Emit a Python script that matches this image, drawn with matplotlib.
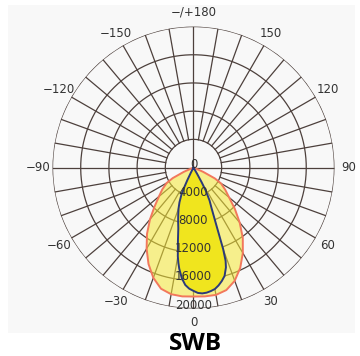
import numpy as np
import matplotlib
matplotlib.use('Agg')
import matplotlib.pyplot as plt
from matplotlib.patches import Rectangle

# curva C0-C180 (azul, lobulo estreito)
blue_deg = [-90, -28, -27, -26, -25, -24, -22, -20, -18, -16, -14, -12, -10, -9, -8, -6, -4, -2, 0,
            2, 4, 6, 8, 10, 12, 14, 16, 18, 19, 20, 21, 22, 24, 26, 28, 29, 30, 31, 90]
blue_cd = [0, 0, 800, 2000, 3200, 4200, 5300, 6200, 7000, 7900, 8900, 10600, 12800, 13700, 14500,
           15800, 16700, 17200, 17500, 17800, 17900, 17850, 17700, 17500, 17100, 16600, 16000,
           14900, 14000, 12300, 9900, 8300, 6300, 5200, 3700, 2400, 1000, 0, 0]

# curva C90-C270 (laranja, lobulo largo)
orange_deg = [-90, -70, -66, -63, -60, -55, -50, -45, -40, -35, -30, -25, -20, -15, -10, -5, 0,
              5, 10, 15, 20, 25, 30, 35, 40, 45, 50, 55, 60, 63, 66, 70, 90]
orange_cd = [0, 0, 1500, 3300, 4400, 5400, 6400, 7800, 9600, 11500, 13300, 15100, 16650, 17800,
             18250, 18350, 18300, 18350, 18350, 18000, 17100, 15700, 14000, 12200, 10200, 8300,
             6600, 5500, 4500, 3400, 1500, 0, 0]

ring_values = [0, 4000, 8000, 12000, 16000, 20000]
angle_ticks = [180, 150, -150, 120, -120, 90, -90, 60, -60, 30, -30, 0]
angle_labels = ['\u2212/+180', '150', '\u2212150', '120', '\u2212120', '90', '\u221290',
                '60', '\u221260', '30', '\u221230', '0']
title = 'SWB'

grid_color = '#4d403c'
text_color = '#333333'

fig = plt.figure(figsize=(3.6, 3.56), dpi=100)
fig.patch.set_facecolor('white')
fig.patches.append(Rectangle((8 / 360, 23 / 356), 347 / 360, 328 / 356,
                             transform=fig.transFigure, facecolor='#f8f8f8',
                             edgecolor='none', zorder=-5))

ax = fig.add_axes([0.1458, 0.1334, 0.7833, 0.792], projection='polar')
ax.set_facecolor('none')
ax.set_theta_zero_location('S')
ax.set_theta_direction(1)
ax.set_ylim(0, 20000)
ax.grid(False)
ax.set_xticks([])
ax.set_yticks([])
ax.spines['polar'].set_visible(False)

# grade: circulos e raios
t = np.linspace(0, 2 * np.pi, 400)
for rv in ring_values[1:]:
    ax.plot(t, np.full_like(t, rv), color=grid_color, lw=0.9, zorder=1)
for a in range(0, 360, 10):
    r0 = 0 if a % 90 == 0 else ring_values[1]
    ax.plot([np.radians(a)] * 2, [r0, ring_values[-1]], color=grid_color, lw=0.9, zorder=1)

# curvas fotometricas
th_o = np.radians(orange_deg)
th_b = np.radians(blue_deg)
ax.fill(th_o, orange_cd, color='#f6e834', alpha=0.55, lw=0, zorder=2)
ax.fill(th_b, blue_cd, color='#f0e51e', lw=0, zorder=3)
ax.plot(th_o, orange_cd, color='#f2785c', lw=1.4, zorder=4)
ax.plot(th_b, blue_cd, color='#2b3a7a', lw=1.4, zorder=4)

# rotulos
for rv in ring_values:
    ax.text(0, rv, str(rv), ha='center', va='baseline', fontsize=8.5,
            color=text_color, zorder=5)
for a, lab in zip(angle_ticks, angle_labels):
    ax.text(np.radians(a), 22000, lab, ha='center', va='center', fontsize=8.5,
            color=text_color, clip_on=False)

fig.text(195 / 360, 1 - 344 / 356, title, ha='center', va='center', fontsize=17.5,
         fontweight='bold', family='Open Sans', color='black')

fig.savefig('out.png', dpi=100)
